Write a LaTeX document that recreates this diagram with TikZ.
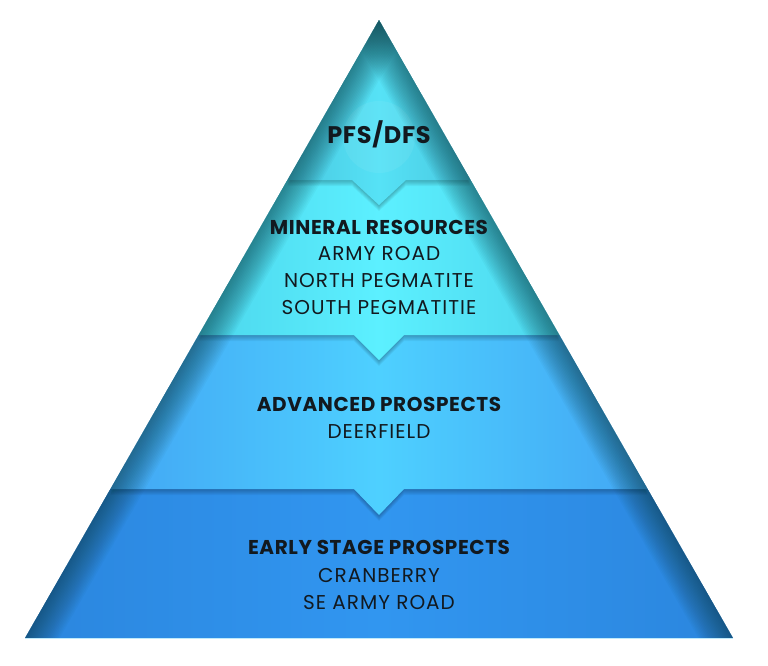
\documentclass[tikz,border=0pt]{standalone}
\usepackage{fontspec}
\setmainfont{Poppins}
\newfontfamily\headfont{Poppins}[LetterSpace=3]
\newfontfamily\itemfont{Poppins}[LetterSpace=5]
\usepackage{xcolor}
\usetikzlibrary{calc}

\definecolor{ink}{HTML}{12191F}
\definecolor{sideA}{HTML}{48C8E0}
\definecolor{midA}{HTML}{56E2F6}
\definecolor{sideB}{HTML}{4CD6EC}
\definecolor{midB}{HTML}{5CF0FF}
\definecolor{sideC}{HTML}{42A6F4}
\definecolor{midC}{HTML}{4ED0FF}
\definecolor{sideD}{HTML}{2B86DE}
\definecolor{midD}{HTML}{3196F0}
\definecolor{edgeshade}{HTML}{0E3C44}

\begin{document}
\begin{tikzpicture}[x=1pt, y=-1pt,
  head/.style={font=\headfont\bfseries\fontsize{20}{24}\selectfont, text=ink, inner sep=0pt},
  item/.style={font=\itemfont\fontsize{20}{24}\selectfont, text=ink, inner sep=0pt},
  top/.style={font=\headfont\bfseries\fontsize{24}{28}\selectfont, text=ink, inner sep=0pt},
  shadowcopy/.style={fill=black, opacity=0.045}
]
\useasboundingbox (0,0) rectangle (768,665);

% corners of the pyramid
\coordinate (apex) at (379,20);
\coordinate (bl) at (25,638);
\coordinate (br) at (733,638);

% bottom layer
\shade[left color=sideD, right color=sideD, middle color=midD]
  (110.35,489) -- (647.65,489) -- (br) -- (bl) -- cycle;

% third layer with its notch
\foreach \s in {1,...,6}
  \fill[shadowcopy, shift={(0,\s)}] (198.56,335) -- (559.44,335) -- (647.65,489) -- (404,489)
    -- (379,515) -- (354,489) -- (110.35,489) -- cycle;
\shade[left color=sideC, right color=sideC, middle color=midC]
  (198.56,335) -- (559.44,335) -- (647.65,489) -- (404,489)
  -- (379,515) -- (354,489) -- (110.35,489) -- cycle;

% second layer
\foreach \s in {1,...,6}
  \fill[shadowcopy, shift={(0,\s)}] (287.35,180) -- (470.65,180) -- (559.44,335) -- (404,335)
    -- (379,360) -- (354,335) -- (198.56,335) -- cycle;
\shade[left color=sideB, right color=sideB, middle color=midB]
  (287.35,180) -- (470.65,180) -- (559.44,335) -- (404,335)
  -- (379,360) -- (354,335) -- (198.56,335) -- cycle;

% top layer
\foreach \s in {1,...,6}
  \fill[shadowcopy, shift={(0,\s)}] (apex) -- (470.65,180) -- (406,180)
    -- (379,205) -- (352,180) -- (287.35,180) -- cycle;
\shade[left color=sideA, right color=sideA, middle color=midA]
  (apex) -- (470.65,180) -- (406,180) -- (379,205) -- (352,180) -- (287.35,180) -- cycle;

% soft glow behind the top label
\fill[white, opacity=0.06] (379,137) circle (36);

% darker rim along the sloped sides
\begin{scope}
  \clip (apex) -- (br) -- (bl) -- cycle;
  \foreach \w in {3,6,...,60} {
    \draw[edgeshade, line width=\w pt, opacity=0.035] (apex) -- (bl);
    \draw[edgeshade, line width=\w pt, opacity=0.035] (apex) -- (br);
  }
\end{scope}
\draw[cyan!25!white, line width=1pt] (bl) -- (br);

% labels
\node[top] (pfs) at (379,134) {PFS/DFS};

\node[head] (mineral) at (379,227) {MINERAL RESOURCES};
\node[item] (armyroad) at (379,254) {ARMY ROAD};
\node[item] (northpeg) at (379,281) {NORTH PEGMATITE};
\node[item] (southpeg) at (379,308) {SOUTH PEGMATITIE};

\node[head] (advanced) at (379,404) {ADVANCED PROSPECTS};
\node[item] (deerfield) at (379,432) {DEERFIELD};

\node[head] (early) at (379,547) {EARLY STAGE PROSPECTS};
\node[item] (cranberry) at (379,575) {CRANBERRY};
\node[item] (searmy) at (379,602) {SE ARMY ROAD};

\end{tikzpicture}
\end{document}
